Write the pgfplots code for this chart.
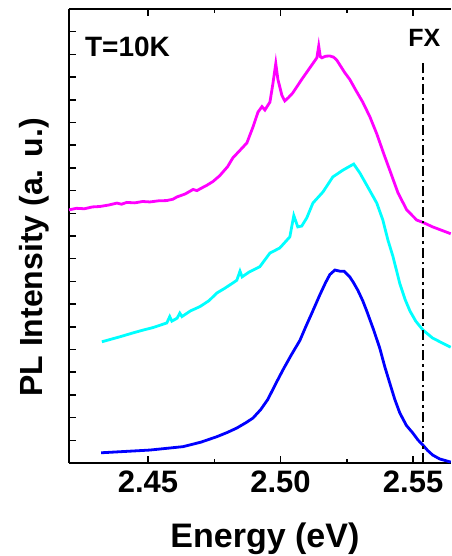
\documentclass[border=0pt]{standalone}
\usepackage{fontspec}
\setmainfont{Liberation Sans}
\usepackage{pgfplots}
\pgfplotsset{compat=1.18}
\definecolor{mag}{RGB}{255,0,255}
\definecolor{cya}{RGB}{0,255,255}
\definecolor{blu}{RGB}{0,0,255}
\begin{document}
\begin{tikzpicture}
\begin{axis}[
 scale only axis, width=382pt, height=454pt,
 xmin=2.4202, xmax=2.5643, ymin=0, ymax=20,
 axis x line*=box, axis y line*=left,
 axis line style={line width=2pt, -},
 xtick={2.45,2.50,2.55}, minor x tick num=1,
 ytick={1,...,19}, yticklabels={},
 tick align=inside,
 major tick length=7pt, minor tick length=4pt,
 every tick/.style={black, line width=1.5pt},
 xticklabel={\pgfmathprintnumber[fixed,fixed zerofill,precision=2,assume math mode=true]{\tick}},
 xticklabel style={anchor=base, yshift=-29pt, font=\bfseries\fontsize{31}{31}\selectfont},
 xlabel={Energy (eV)},
 x label style={at={([yshift=-84pt]axis description cs:0.513,0)}, anchor=base, font=\bfseries\fontsize{34}{34}\selectfont},
 ylabel={PL Intensity (a. u.)},
 y label style={at={([xshift=-26pt]axis description cs:0,0.4527)}, anchor=base, rotate=0, font=\bfseries\fontsize{32}{32}\selectfont},
]
\addplot[mag, line width=2.8pt] coordinates {
(2.4202,11.15)(2.4230,11.22)(2.4260,11.20)(2.4290,11.28)(2.4319,11.30)(2.4350,11.36)(2.4383,11.45)(2.4400,11.40)(2.4420,11.48)(2.4450,11.46)(2.4480,11.52)(2.4507,11.50)(2.4540,11.55)(2.4570,11.56)(2.4594,11.62)(2.4609,11.72)(2.4640,11.85)(2.4670,12.05)(2.4685,12.00)(2.4700,12.10)(2.4720,12.22)(2.4745,12.40)(2.4770,12.65)(2.4800,13.05)(2.4820,13.44)(2.4845,13.75)(2.4873,14.10)(2.4896,14.80)(2.4915,15.46)(2.4930,15.70)(2.4941,15.55)(2.4960,15.90)(2.4971,16.70)(2.4982,17.60)(2.4990,16.90)(2.5005,16.20)(2.5016,15.95)(2.5030,16.10)(2.5046,16.30)(2.5080,16.90)(2.5110,17.40)(2.5137,17.85)(2.5144,18.37)(2.5150,17.90)(2.5156,17.85)(2.5170,17.92)(2.5186,17.93)(2.5200,17.88)(2.5212,17.75)(2.5242,17.20)(2.5261,16.90)(2.5285,16.40)(2.5310,15.90)(2.5337,15.25)(2.5363,14.50)(2.5390,13.60)(2.5412,12.90)(2.5443,11.90)(2.5476,11.15)(2.5514,10.70)(2.5537,10.60)(2.5574,10.40)(2.5642,10.10)
};
\addplot[cya, line width=2.8pt] coordinates {
(2.4326,5.34)(2.4360,5.45)(2.4400,5.58)(2.4443,5.73)(2.4480,5.85)(2.4520,5.97)(2.4571,6.17)(2.4582,6.45)(2.4590,6.25)(2.4610,6.38)(2.4620,6.60)(2.4628,6.45)(2.4660,6.70)(2.4696,6.89)(2.4730,7.15)(2.4760,7.49)(2.4790,7.70)(2.4820,7.93)(2.4835,8.05)(2.4847,8.45)(2.4855,8.20)(2.4880,8.40)(2.4922,8.65)(2.4960,9.25)(2.4997,9.47)(2.5035,9.96)(2.5050,10.90)(2.5065,10.40)(2.5080,10.44)(2.5099,10.80)(2.5122,11.45)(2.5160,11.94)(2.5197,12.60)(2.5235,12.90)(2.5276,13.17)(2.5299,12.78)(2.5329,12.16)(2.5363,11.45)(2.5386,10.70)(2.5405,9.82)(2.5424,9.10)(2.5450,7.90)(2.5470,7.20)(2.5488,6.70)(2.5510,6.25)(2.5537,5.86)(2.5574,5.50)(2.5642,5.10)
};
\addplot[blu, line width=2.8pt] coordinates {
(2.4323,0.45)(2.4400,0.50)(2.4507,0.57)(2.4632,0.72)(2.4700,0.92)(2.4760,1.16)(2.4800,1.35)(2.4835,1.54)(2.4870,1.78)(2.4896,1.98)(2.4925,2.35)(2.4952,2.80)(2.4980,3.45)(2.5009,4.10)(2.5040,4.75)(2.5073,5.40)(2.5095,6.00)(2.5118,6.60)(2.5148,7.40)(2.5170,7.95)(2.5186,8.30)(2.5205,8.50)(2.5224,8.45)(2.5240,8.45)(2.5261,8.20)(2.5275,7.95)(2.5292,7.60)(2.5310,7.15)(2.5325,6.70)(2.5350,5.90)(2.5374,5.07)(2.5393,4.25)(2.5412,3.52)(2.5431,2.80)(2.5450,2.20)(2.5475,1.65)(2.5499,1.32)(2.5518,1.02)(2.5537,0.79)(2.5555,0.55)(2.5574,0.35)(2.5600,0.18)(2.5642,0.04)
};
\addplot[black, line width=2.2pt, dash pattern=on 10pt off 4pt on 2.5pt off 4pt] coordinates {(2.5537,0) (2.5537,17.7)};
\node[anchor=base west, inner sep=0pt, font=\bfseries\fontsize{28}{28}\selectfont] at (axis cs:2.4262,17.89) {T=10K};
\node[anchor=base, inner sep=0pt, font=\bfseries\fontsize{25}{25}\selectfont] at (axis cs:2.5542,18.33) {FX};
\end{axis}
\pgfresetboundingbox
\path[use as bounding box] (-69pt,-93pt) rectangle (382pt,463pt);
\end{tikzpicture}
\end{document}
